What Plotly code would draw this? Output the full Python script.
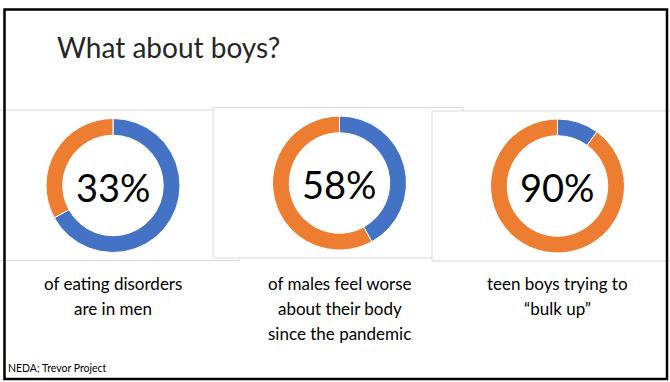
import plotly.graph_objects as go

W, H = 670, 382

# ---- data ----
percent_labels = ["33%", "58%", "90%"]
blue_values = [67, 42, 10]
orange_values = [33, 58, 90]
captions = [
    ["of eating disorders", "are in men"],
    ["of males feel worse", "about their body", "since the pandemic"],
    ["teen boys trying to", "\u201cbulk up\u201d"],
]
title_text = "What about boys?"
source_text = "NEDA; Trevor Project"

BLUE = "#4472C4"
ORANGE = "#ED7D31"
FONT = "Lato"

# donut centers in pixels (x from left, y from top) and radius
centers = [(113, 185.5), (339.5, 183), (557.5, 186)]
R = 67
# panels: x0, y0, x1, y1 in pixels
panels = [(-5, 110, 239, 260.5), (213, 107.5, 463, 258), (432, 111, 700, 261)]


def px(x):
    return x / W


def py(y):
    return 1 - y / H


fig = go.Figure()

for i, (cx, cy) in enumerate(centers):
    fig.add_trace(go.Pie(
        values=[blue_values[i], orange_values[i]],
        labels=["other", "share"],
        marker=dict(colors=[BLUE, ORANGE], line=dict(color="white", width=1)),
        hole=0.75,
        sort=False,
        direction="clockwise",
        rotation=0,
        textinfo="none",
        hoverinfo="skip",
        showlegend=False,
        domain=dict(x=[px(cx - R), px(cx + R)], y=[py(cy + R), py(cy - R)]),
    ))

shapes = []
for (x0, y0, x1, y1) in panels:
    shapes.append(dict(type="rect", xref="paper", yref="paper",
                       x0=px(x0), x1=px(x1), y0=py(y1), y1=py(y0),
                       line=dict(color="#D9D9D9", width=1),
                       fillcolor="white", layer="below"))
# slide border
shapes.append(dict(type="rect", xref="paper", yref="paper",
                   x0=px(4.5), x1=px(667), y0=py(379), y1=py(9.5),
                   line=dict(color="black", width=2.5),
                   fillcolor="rgba(0,0,0,0)", layer="above"))

annotations = []
annotations.append(dict(text=title_text, xref="paper", yref="paper",
                        x=px(55), y=py(47), xanchor="left", yanchor="middle",
                        showarrow=False,
                        font=dict(family=FONT, size=28, color="#262626")))
for i, (cx, cy) in enumerate(centers):
    annotations.append(dict(text=percent_labels[i], xref="paper", yref="paper",
                            x=px(cx), y=py(cy + 1), xanchor="center", yanchor="middle",
                            showarrow=False,
                            font=dict(family=FONT, size=38, color="black")))
    for j, line in enumerate(captions[i]):
        annotations.append(dict(text=line, xref="paper", yref="paper",
                                x=px(cx), y=py(283 + 25 * j), xanchor="center",
                                yanchor="middle", showarrow=False,
                                font=dict(family=FONT, size=17, color="black")))
annotations.append(dict(text=source_text, xref="paper", yref="paper",
                        x=px(6), y=py(368), xanchor="left", yanchor="middle",
                        showarrow=False,
                        font=dict(family=FONT, size=10.5, color="black")))

fig.update_layout(
    width=W, height=H,
    margin=dict(l=0, r=0, t=0, b=0),
    paper_bgcolor="white",
    plot_bgcolor="white",
    shapes=shapes,
    annotations=annotations,
)

fig.write_html("out.html")
